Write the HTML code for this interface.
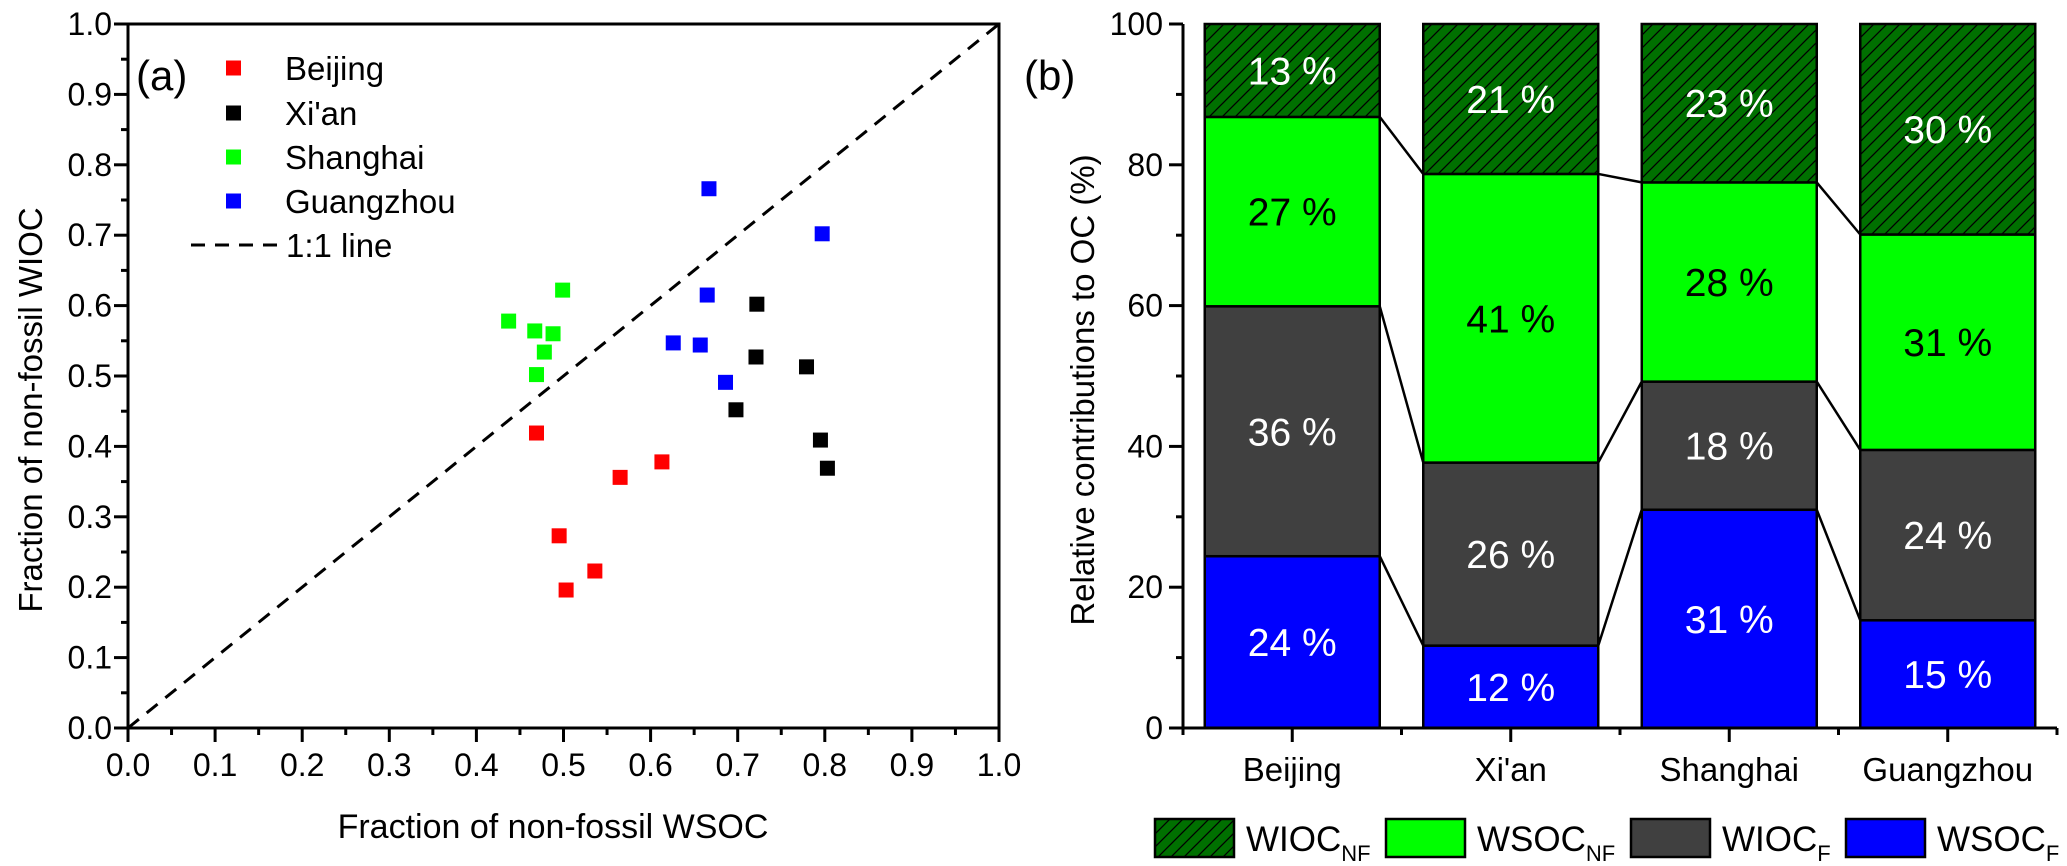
<!DOCTYPE html>
<html><head><meta charset="utf-8"><style>
html,body{margin:0;padding:0;background:#fff;}
svg{display:block;font-family:"Liberation Sans",Arial,sans-serif;}
</style></head><body>
<svg id="fig" width="2067" height="866" viewBox="0 0 2067 866" xmlns="http://www.w3.org/2000/svg">
<defs>
<pattern id="hatch" patternUnits="userSpaceOnUse" width="13" height="13">
<rect width="13" height="13" fill="#007000"/>
<path d="M-2,15 L15,-2 M-2,2 L2,-2 M11,15 L15,11" stroke="#000" stroke-width="1.3"/>
</pattern>
</defs>
<g id="left"></g>
<g id="right"></g>
</svg>
<script>
// ---------- scatter data ----------
const cities = ["Beijing","Xi'an","Shanghai","Guangzhou"];
const cityColors = ["#ff0000","#000000","#00ff00","#0000ff"];
const beijingX = [0.469,0.495,0.503,0.536,0.565,0.613];
const beijingY = [0.419,0.273,0.196,0.223,0.356,0.378];
const xianX = [0.698,0.721,0.722,0.779,0.795,0.803];
const xianY = [0.452,0.527,0.602,0.513,0.409,0.369];
const shanghaiX = [0.437,0.467,0.469,0.478,0.488,0.499];
const shanghaiY = [0.578,0.564,0.502,0.534,0.560,0.622];
const guangzhouX = [0.626,0.657,0.665,0.667,0.686,0.797];
const guangzhouY = [0.547,0.544,0.615,0.766,0.491,0.702];
const scatterTicks = ["0.0","0.1","0.2","0.3","0.4","0.5","0.6","0.7","0.8","0.9","1.0"];
// ---------- bar data ----------
const barCategories = ["Beijing","Xi'an","Shanghai","Guangzhou"];
const wsocF = [24.4,11.7,31.0,15.3];
const wiocF = [35.5,26.0,18.2,24.2];
const wsocNF = [26.9,41.0,28.3,30.6];
const wiocNF = [13.2,21.3,22.5,29.9];
const wsocFLabels = ["24 %","12 %","31 %","15 %"];
const wiocFLabels = ["36 %","26 %","18 %","24 %"];
const wsocNFLabels = ["27 %","41 %","28 %","31 %"];
const wiocNFLabels = ["13 %","21 %","23 %","30 %"];
const barTicks = ["0","20","40","60","80","100"];

const NS="http://www.w3.org/2000/svg";
function mk(parent,tag,attrs,text){const e=document.createElementNS(NS,tag);for(const k in attrs)e.setAttribute(k,attrs[k]);if(text!==undefined)e.textContent=text;parent.appendChild(e);return e;}

// ---------- scatter ----------
const L=document.getElementById('left');
const X0=128,X1=999,Y0=728,Y1=24;
const sx=v=>X0+v*(X1-X0), sy=v=>Y0-v*(Y0-Y1);
let e;
e=mk(L,'rect',{x:X0,y:Y1,width:X1-X0,height:Y0-Y1,fill:'none',stroke:'#000','stroke-width':3});


for(let i=0;i<=20;i++){
  const v=i/20, maj=i%2===0, len=maj?14:7;
  mk(L,'line',{x1:sx(v),x2:sx(v),y1:Y0,y2:Y0+len,stroke:'#000','stroke-width':3});
  mk(L,'line',{x1:X0,x2:X0-len,y1:sy(v),y2:sy(v),stroke:'#000','stroke-width':3});
}
scatterTicks.forEach((t,i)=>{
  const v=i/10;
  e=mk(L,'text',{x:sx(v),y:sy(0)+48,'font-size':32,'text-anchor':'middle'},t);
  
  
  e=mk(L,'text',{x:X0-16,y:sy(v)+11,'font-size':32,'text-anchor':'end'},t);
  
  
});
e=mk(L,'line',{x1:sx(0),y1:sy(0),x2:sx(1),y2:sy(1),stroke:'#000','stroke-width':3,'stroke-dasharray':'14,10'});


const seriesX=[beijingX,xianX,shanghaiX,guangzhouX], seriesY=[beijingY,xianY,shanghaiY,guangzhouY];
seriesX.forEach((xs,s)=>{
  xs.forEach((xv,i)=>{
    const p=mk(L,'rect',{x:sx(xv)-7.5,y:sy(seriesY[s][i])-7.5,width:15,height:15,fill:cityColors[s]});
    
    
  });
});
e=mk(L,'text',{x:136,y:90,'font-size':42},'(a)');


const legY=[68,113,157,201];
cities.forEach((c,i)=>{
  const g=mk(L,'g',{});
  
  
  mk(g,'rect',{x:226,y:legY[i]-7.5,width:15,height:15,fill:cityColors[i]});
  mk(g,'text',{x:285,y:legY[i]+12,'font-size':33},c);
});
e=mk(L,'line',{x1:191,x2:277,y1:245,y2:245,stroke:'#000','stroke-width':3,'stroke-dasharray':'14,10'});


e=mk(L,'text',{x:286,y:257,'font-size':33},'1:1 line');


e=mk(L,'text',{x:553,y:838,'font-size':34,'text-anchor':'middle'},'Fraction of non-fossil WSOC');


e=mk(L,'text',{x:0,y:0,'font-size':33,'text-anchor':'middle',transform:'translate(42,410) rotate(-90)'},'Fraction of non-fossil WIOC');



// ---------- bars ----------
const R=document.getElementById('right');
const BX0=1183,BX1=2057,BY0=728,BY1=24;
const step=(BX1-BX0)/barCategories.length, bw=175;
const by=v=>BY0-v/100*(BY0-BY1);
const cx=i=>BX0+step*(i+0.5);
const segs=[
  {vals:wsocF,labels:wsocFLabels,fill:'#0000ff',tc:'#fff',name:'wsoc-f'},
  {vals:wiocF,labels:wiocFLabels,fill:'#404040',tc:'#fff',name:'wioc-f'},
  {vals:wsocNF,labels:wsocNFLabels,fill:'#00ff00',tc:'#000',name:'wsoc-nf'},
  {vals:wiocNF,labels:wiocNFLabels,fill:'url(#hatch)',tc:'#fff',name:'wioc-nf'}];
const tops=barCategories.map(()=>[]);
barCategories.forEach((c,i)=>{
  let base=0;
  segs.forEach(s=>{
    const v=s.vals[i], top=base+v;
    const r=mk(R,'rect',{x:cx(i)-bw/2,y:by(top),width:bw,height:by(base)-by(top),fill:s.fill,stroke:'#000','stroke-width':2.5});
    
    
    const t=mk(R,'text',{x:cx(i),y:(by(base)+by(top))/2+14,'font-size':39,'text-anchor':'middle',fill:s.tc},s.labels[i]);
    
    
    tops[i].push(top);
    base=top;
  });
});
for(let i=0;i<barCategories.length-1;i++){
  for(let k=0;k<3;k++){
    const ln=mk(R,'line',{x1:cx(i)+bw/2,y1:by(tops[i][k]),x2:cx(i+1)-bw/2,y2:by(tops[i+1][k]),stroke:'#000','stroke-width':2.5});
    
    
  }
}
e=mk(R,'line',{x1:BX0,x2:BX0,y1:BY1,y2:BY0,stroke:'#000','stroke-width':3});


e=mk(R,'line',{x1:BX0,x2:BX1,y1:BY0,y2:BY0,stroke:'#000','stroke-width':3});


for(let i=0;i<=10;i++){
  const len=i%2===0?14:7;
  mk(R,'line',{x1:BX0,x2:BX0-len,y1:by(i*10),y2:by(i*10),stroke:'#000','stroke-width':3});
}
barTicks.forEach((t,i)=>{
  e=mk(R,'text',{x:BX0-20,y:by(i*20)+11,'font-size':32,'text-anchor':'end'},t);
  
  
});
for(let i=0;i<=barCategories.length;i++){
  mk(R,'line',{x1:BX0+step*i,x2:BX0+step*i,y1:BY0,y2:BY0+7,stroke:'#000','stroke-width':3});
}
barCategories.forEach((c,i)=>{
  mk(R,'line',{x1:cx(i),x2:cx(i),y1:BY0,y2:BY0+14,stroke:'#000','stroke-width':3});
  e=mk(R,'text',{x:cx(i),y:781,'font-size':33,'text-anchor':'middle'},c);
  
  
});
e=mk(R,'text',{x:1024,y:90,'font-size':42},'(b)');


e=mk(R,'text',{x:0,y:0,'font-size':33,'text-anchor':'middle',transform:'translate(1094,390) rotate(-90)'},'Relative contributions to OC (%)');


const legItems=[
  {x:1155,fill:'url(#hatch)',main:'WIOC',sub:'NF'},
  {x:1386,fill:'#00ff00',main:'WSOC',sub:'NF'},
  {x:1631,fill:'#404040',main:'WIOC',sub:'F'},
  {x:1846,fill:'#0000ff',main:'WSOC',sub:'F'}];
legItems.forEach(it=>{
  const g=mk(R,'g',{});
  
  
  mk(g,'rect',{x:it.x,y:819,width:79,height:38,fill:it.fill,stroke:'#000','stroke-width':2.5});
  const t=mk(g,'text',{x:it.x+91,y:851,'font-size':35});
  mk(t,'tspan',{},it.main);
  mk(t,'tspan',{'font-size':22,dy:10},it.sub);
});
</script>
</body></html>
